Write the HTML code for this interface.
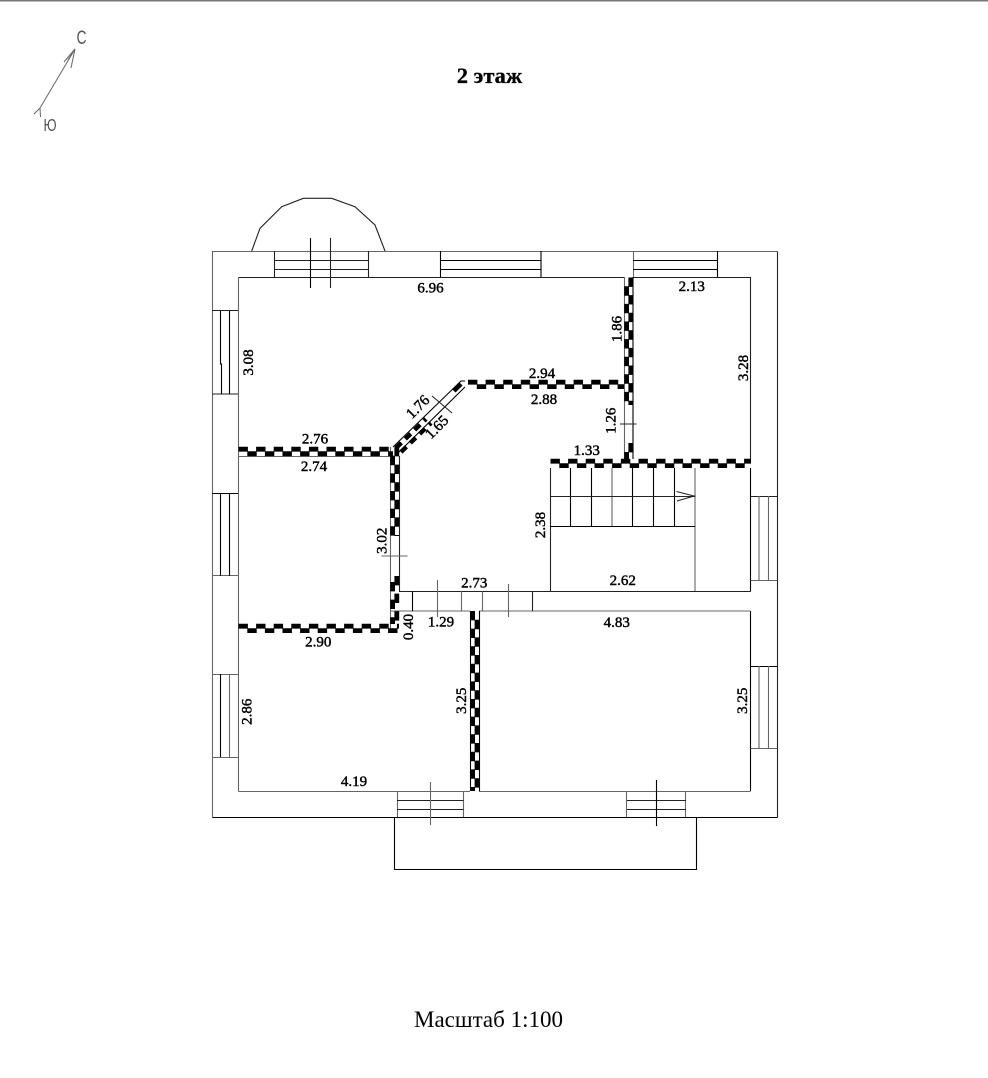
<!DOCTYPE html>
<html><head><meta charset="utf-8"><title>2 этаж</title>
<style>
html,body{margin:0;padding:0;background:#fff}
svg{display:block;filter:blur(.3px)}
.l{stroke:#222;stroke-width:1.1;fill:none}
.g{stroke:#666;stroke-width:1.1;fill:none}
.k{stroke:#000;stroke-width:1.1;fill:none}
.c{stroke:#000;stroke-width:4.8;stroke-dasharray:9.4 8.2;fill:none}
.d{stroke:#000;stroke-width:4.4;stroke-dasharray:7.5 5.5;fill:none}
text{font-family:"Liberation Serif","Noto Serif CJK SC",serif;fill:#000}
.n{font-size:15px;text-anchor:middle;stroke:#000;stroke-width:.45}
.s{font-family:"Liberation Sans",sans-serif;fill:#555;text-anchor:middle}
</style></head>
<body>
<svg width="988" height="1078" viewBox="0 0 988 1078" xmlns="http://www.w3.org/2000/svg">
<rect width="988" height="1078" fill="#fff"/>
<rect width="988" height="1.5" fill="#777"/>

<!-- compass -->
<g stroke="#666" stroke-width="1" fill="none">
<path d="M75 49 L40 108 M34 114 L40 108 L40.5 117 M64 62 L75 49 L71 68 M68 60 L75 49"/>
</g>
<text class="s" transform="translate(81.5,44) scale(.72,1)" style="font-size:19px">С</text>
<text class="s" transform="translate(50,131) scale(.72,1)" style="font-size:18px">Ю</text>

<text x="489.5" y="83" style="font-size:22.5px;font-weight:bold;text-anchor:middle;stroke:#000;stroke-width:.3">2 этаж</text>
<text x="488.5" y="1027" style="font-size:23px;text-anchor:middle">Масштаб 1:100</text>

<!-- outer wall -->
<path class="g" d="M212.5 817.5 V251.5 H777.5"/>
<path class="l" d="M777.5 251.5 V817.5"/>
<path class="k" d="M212.5 817.5 H777.5"/>
<!-- bay arc -->
<path class="l" d="M251.7 251 L260 228.3 L281.7 206.7 L303.3 198.3 L331.7 198.3 L355 206.7 L375 225 L385 251"/>
<!-- porch -->
<path class="k" d="M394.5 817.5 V869.5 H696.5 V817.5"/>

<!-- inner rooms -->
<path class="g" d="M238.5 277.5 V791.5"/>
<path class="l" d="M238.5 277.5 H624"/>
<path class="l" d="M633.5 277.5 H750.5 V459"/>
<path class="k" d="M750.5 468 V591.5 M750.5 611 V791"/>
<path class="g" d="M238.5 791.5 H470 M479 791.5 H750.5"/>
<path class="g" d="M238.5 456.5 H390"/>
<path class="g" d="M390.5 447 V633"/>
<path class="l" d="M399.5 456 V591.5"/>
<path class="g" d="M624.5 277 V459"/>
<path class="k" d="M633 277 V459"/>
<path class="l" d="M399 591.5 H750.5"/>
<path class="g" d="M391 611 H470 M479 611 H750.5"/>
<path class="k" d="M470.5 611 V791 M479.5 611 V791"/>

<!-- corridor door jambs -->
<path class="k" d="M412.5 591.5 V611"/>
<path class="g" d="M461.5 591.5 V611"/>
<path class="g" d="M482.5 591.5 V611"/>
<path class="l" d="M532.5 591.5 V611"/>
<path class="g" d="M437.5 580 V617 M508.5 584 V617"/>
<path class="g" d="M381.5 556 H407.5"/>
<path class="l" d="M620 424 H636.5"/>

<!-- windows top -->
<path class="l" d="M274.5 251 V277 M368.5 251 V277 M274 260.5 H368 M274 269.5 H368"/>
<path class="k" d="M310.5 238 V288"/>
<path class="l" d="M330.5 238 V288"/>
<path class="k" d="M440.5 251 V277 M541 251 V277 M440 260.5 H541 M440 269.5 H541"/>
<path class="g" d="M633.5 251 V277"/>
<path class="k" d="M717.5 251 V277 M633 260.5 H717 M633 269.5 H717"/>
<!-- windows left -->
<path class="l" d="M212 310.5 H238 M212 394 H238"/>
<path class="k" d="M220.5 311 V364 L221.5 364 V394 M229.5 311 V394"/>
<path class="k" d="M212 493.5 H238"/>
<path class="g" d="M212 575.5 H238"/>
<path class="k" d="M220.5 493 V576 M229.5 493 V576"/>
<path class="g" d="M212 674.5 H238 M212 757.5 H238"/>
<path class="k" d="M220.5 674 V757"/>
<path class="g" d="M229.5 674 V757"/>
<!-- windows right -->
<path class="l" d="M750.5 496.5 H777.5"/>
<path class="g" d="M750.5 580.5 H777.5 M759 496 V580 M768.5 496 V580"/>
<path class="k" d="M750.5 666.5 H777.5"/>
<path class="g" d="M750.5 748.5 H777.5 M759 666 V748 M768.5 666 V748"/>
<!-- windows bottom -->
<path class="g" d="M397.5 791 V817 M463.5 791 V817"/>
<path class="l" d="M397 800.5 H463.5 M397 809.5 H463.5"/>
<path class="g" d="M430.5 782 V825"/>
<path class="g" d="M626.5 791 V817 M685.5 791 V817"/>
<path class="l" d="M627 800.5 H686 M627 809.5 H686"/>
<path class="k" d="M656.5 780 V826"/>

<!-- stairs -->
<path class="l" d="M550.5 468 V591"/>
<path class="k" d="M570.5 468 V526 M591.5 468 V526 M632.5 468 V526 M653.5 468 V526 M674.5 468 V526"/>
<path class="g" d="M612 468 V526 M695 468 V591"/>
<path class="l" d="M550 496.5 H695"/>
<path class="k" d="M550 526.5 H695"/>
<path class="l" d="M676.5 491.5 L694 496 L677 501"/>

<!-- diagonal wall -->
<path class="k" d="M393 447 L461 381 H465"/>
<path class="k" d="M398 453 L465 387"/>
<path class="l" d="M432 396 L452 413"/>
<path class="d" d="M396 448 L426 419"/>
<path class="d" d="M401 452 L431 423"/>
<path d="M454 391 L461 384" stroke="#000" stroke-width="4.4" fill="none"/>

<!-- checker walls -->
<path class="c" d="M238.5 449.2 H393"/>
<path class="c" d="M247.3 453.7 H393"/>
<path class="c" d="M468 382.2 H624"/>
<path class="c" d="M476.8 386.6 H624"/>
<path class="c" d="M550.5 461.2 H751"/>
<path class="c" d="M559.3 465.6 H751"/>
<path class="c" d="M238.5 626.2 H399"/>
<path class="c" d="M247.3 630.6 H399"/>
<path class="c" d="M396.8 447 V536"/>
<path class="c" d="M392.6 455.8 V536"/>
<path class="c" d="M396.8 576 V624"/>
<path class="c" d="M392.6 582 V624"/>
<path class="c" d="M630.8 277.5 V405"/>
<path class="c" d="M626.6 286.3 V405"/>
<path class="c" d="M630.8 443 V459"/>
<path class="c" d="M626.6 452 V459"/>
<path class="c" d="M472.6 611 V791"/>
<path class="c" d="M477 619.8 V791"/>

<!-- labels -->
<text class="n" transform="translate(430.5,287.5)" dy=".33em">6.96</text>
<text class="n" transform="translate(248,362.5) rotate(-90)" dy=".33em">3.08</text>
<text class="n" transform="translate(315,438.5)" dy=".33em">2.76</text>
<text class="n" transform="translate(314,466)" dy=".33em">2.74</text>
<text class="n" transform="translate(417.7,406.7) rotate(-45)" dy=".33em">1.76</text>
<text class="n" transform="translate(436.7,427) rotate(-45)" dy=".33em">1.65</text>
<text class="n" transform="translate(542,373)" dy=".33em">2.94</text>
<text class="n" transform="translate(544,399)" dy=".33em">2.88</text>
<text class="n" transform="translate(616.7,329) rotate(-90)" dy=".33em">1.86</text>
<text class="n" transform="translate(691.7,286)" dy=".33em">2.13</text>
<text class="n" transform="translate(743,368) rotate(-90)" dy=".33em">3.28</text>
<text class="n" transform="translate(610.7,420.7) rotate(-90)" dy=".33em">1.26</text>
<text class="n" transform="translate(586.7,450)" dy=".33em">1.33</text>
<text class="n" transform="translate(540,525) rotate(-90)" dy=".33em">2.38</text>
<text class="n" transform="translate(381.7,540.7) rotate(-90)" dy=".33em">3.02</text>
<text class="n" transform="translate(474.3,582.7)" dy=".33em">2.73</text>
<text class="n" transform="translate(408,627) rotate(-90)" dy=".33em">0.40</text>
<text class="n" transform="translate(441,621.7)" dy=".33em">1.29</text>
<text class="n" transform="translate(318.3,641.3)" dy=".33em">2.90</text>
<text class="n" transform="translate(246.7,711.7) rotate(-90)" dy=".33em">2.86</text>
<text class="n" transform="translate(461,700.7) rotate(-90)" dy=".33em">3.25</text>
<text class="n" transform="translate(354,781)" dy=".33em">4.19</text>
<text class="n" transform="translate(622.7,580)" dy=".33em">2.62</text>
<text class="n" transform="translate(616.7,622)" dy=".33em">4.83</text>
<text class="n" transform="translate(742,700.7) rotate(-90)" dy=".33em">3.25</text>
</svg>
</body></html>
